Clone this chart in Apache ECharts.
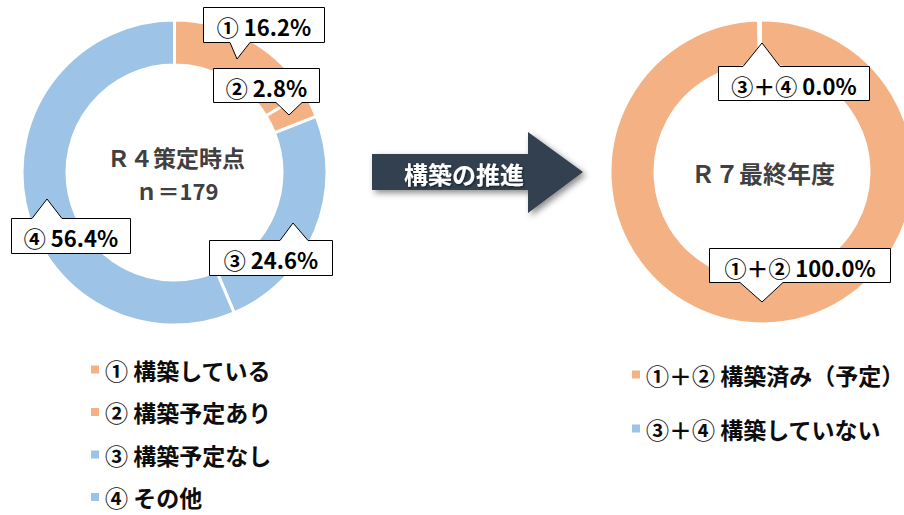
<!DOCTYPE html>
<html>
<head>
<meta charset="utf-8">
<script src="https://cdn.jsdelivr.net/npm/echarts@6/dist/echarts.min.js"></script>
<style>
html, body { margin: 0; padding: 0; background: #fff; }
#main { width: 904px; height: 515px; }
</style>
</head>
<body>
<div id="main"></div>
<script>
// データ
var leftNames = ['① 構築している', '② 構築予定あり', '③ 構築予定なし', '④ その他'];
var leftMarks = ['①', '②', '③', '④'];
var leftValues = [16.2, 2.8, 24.6, 56.4];
var rightNames = ['①＋② 構築済み（予定）', '③＋④ 構築していない'];
var rightMarks = ['①＋②', '③＋④'];
var rightValues = [100.0, 0.0];
var leftTitle = ['Ｒ４策定時点', 'ｎ＝179'];
var rightTitle = 'Ｒ７最終年度';
var arrowText = '構築の推進';

var orange = '#F4B183', blue = '#9DC3E6';
var leftColors = [orange, orange, blue, blue];
var rightColors = [orange, '#fff'];   // 0%の区切りは白
var rightLegendColors = [orange, blue];
var font = '"Noto Sans CJK JP", "Noto Sans", sans-serif';

// 吹き出しの位置
var leftCallouts = [
    { box: [203, 7, 121, 35], side: 'bottom', base: [230, 250], tip: [237, 59] },
    { box: [213, 68, 106, 34], side: 'bottom', base: [276, 302], tip: [289, 115] },
    { box: [209, 240, 123, 35], side: 'top', base: [280, 308], tip: [293, 223] },
    { box: [11, 218, 119, 35], side: 'top', base: [32, 62], tip: [47, 199] }
];
var rightCallouts = [
    { box: [709, 248, 181, 34], side: 'bottom', base: [740, 783], tip: [762, 302] },
    { box: [718, 66, 151, 34], side: 'top', base: [743, 780], tip: [762, 43] }
];

function calloutShape(c, text) {
    var x = c.box[0] + 0.5, y = c.box[1] + 0.5, w = c.box[2], h = c.box[3];
    var pts;
    if (c.side === 'bottom') {
        pts = [[x, y], [x + w, y], [x + w, y + h], [c.base[1], y + h], c.tip, [c.base[0], y + h], [x, y + h]];
    } else {
        pts = [[x, y], [c.base[0], y], c.tip, [c.base[1], y], [x + w, y], [x + w, y + h], [x, y + h]];
    }
    return [{
        type: 'polygon',
        z: 10,
        shape: { points: pts },
        style: { fill: '#fff', stroke: '#000', lineWidth: 1 }
    }, {
        type: 'text',
        z: 11,
        x: x + w / 2,
        y: y + h / 2 + 1,
        style: {
            text: text, fill: '#000', font: 'bold 22px ' + font,
            align: 'center', verticalAlign: 'middle'
        }
    }];
}

var graphics = [];
leftCallouts.forEach(function (c, i) {
    graphics = graphics.concat(calloutShape(c, leftMarks[i] + ' ' + leftValues[i].toFixed(1) + '%'));
});
rightCallouts.forEach(function (c, i) {
    graphics = graphics.concat(calloutShape(c, rightMarks[i] + ' ' + rightValues[i].toFixed(1) + '%'));
});

// 中央の文字
graphics.push({
    type: 'text', x: 176, y: 157,
    style: { text: leftTitle[0], fill: '#404040', font: 'bold 23px ' + font, align: 'center', verticalAlign: 'middle' }
});
graphics.push({
    type: 'text', x: 177, y: 190,
    style: { text: leftTitle[1], fill: '#404040', font: 'bold 22px ' + font, align: 'center', verticalAlign: 'middle' }
});
graphics.push({
    type: 'text', x: 763, y: 172,
    style: { text: rightTitle, fill: '#404040', font: 'bold 24px ' + font, align: 'center', verticalAlign: 'middle' }
});

// 矢印
graphics.push({
    type: 'polygon',
    shape: { points: [[372, 154], [528, 154], [528, 132], [583, 172], [528, 213], [528, 190], [372, 190]] },
    style: {
        fill: '#333F50', shadowBlur: 6, shadowOffsetX: 3, shadowOffsetY: 3,
        shadowColor: 'rgba(0,0,0,0.45)'
    }
});
graphics.push({
    type: 'text', x: 464, y: 173,
    style: {
        text: arrowText, fill: '#fff', font: 'bold 24px ' + font, align: 'center', verticalAlign: 'middle',
        textShadowBlur: 2, textShadowOffsetX: 1, textShadowOffsetY: 1, textShadowColor: 'rgba(0,0,0,0.6)'
    }
});

var myChart = echarts.init(document.getElementById('main'), null, { renderer: 'svg' });

var option = {
    animation: false,
    legend: [{
        orient: 'vertical',
        left: 89,
        top: 358,
        padding: 0,
        itemWidth: 10,
        itemHeight: 10,
        itemGap: 19.5,
        icon: 'rect',
        selectedMode: false,
        data: leftNames,
        textStyle: { fontSize: 23, fontWeight: 'bold', color: '#0d0d0d', fontFamily: font, lineHeight: 23 }
    }, {
        orient: 'vertical',
        left: 630,
        top: 363,
        padding: 0,
        itemWidth: 10,
        itemHeight: 10,
        itemGap: 31,
        icon: 'rect',
        selectedMode: false,
        data: rightNames.map(function (n, i) {
            return { name: n, itemStyle: { color: rightLegendColors[i] } };
        }),
        textStyle: { fontSize: 23, fontWeight: 'bold', color: '#0d0d0d', fontFamily: font, lineHeight: 23 }
    }],
    graphic: graphics,
    series: [{
        name: 'R4策定時点',
        type: 'pie',
        silent: true,
        center: [174.5, 172.5],
        radius: [107.5, 152.5],
        startAngle: 90,
        clockwise: true,
        label: { show: false },
        labelLine: { show: false },
        itemStyle: { borderColor: '#fff', borderWidth: 3 },
        data: leftNames.map(function (n, i) {
            return { name: n, value: leftValues[i], itemStyle: { color: leftColors[i] } };
        })
    }, {
        name: 'R7最終年度',
        type: 'pie',
        silent: true,
        center: [762, 172],
        radius: [107.5, 151.5],
        startAngle: 90.5,
        clockwise: true,
        minAngle: 1,
        label: { show: false },
        labelLine: { show: false },
        itemStyle: { borderColor: '#fff', borderWidth: 2 },
        data: rightNames.map(function (n, i) {
            return { name: n, value: rightValues[i], itemStyle: { color: rightColors[i] } };
        })
    }]
};

myChart.setOption(option);
</script>
</body>
</html>
